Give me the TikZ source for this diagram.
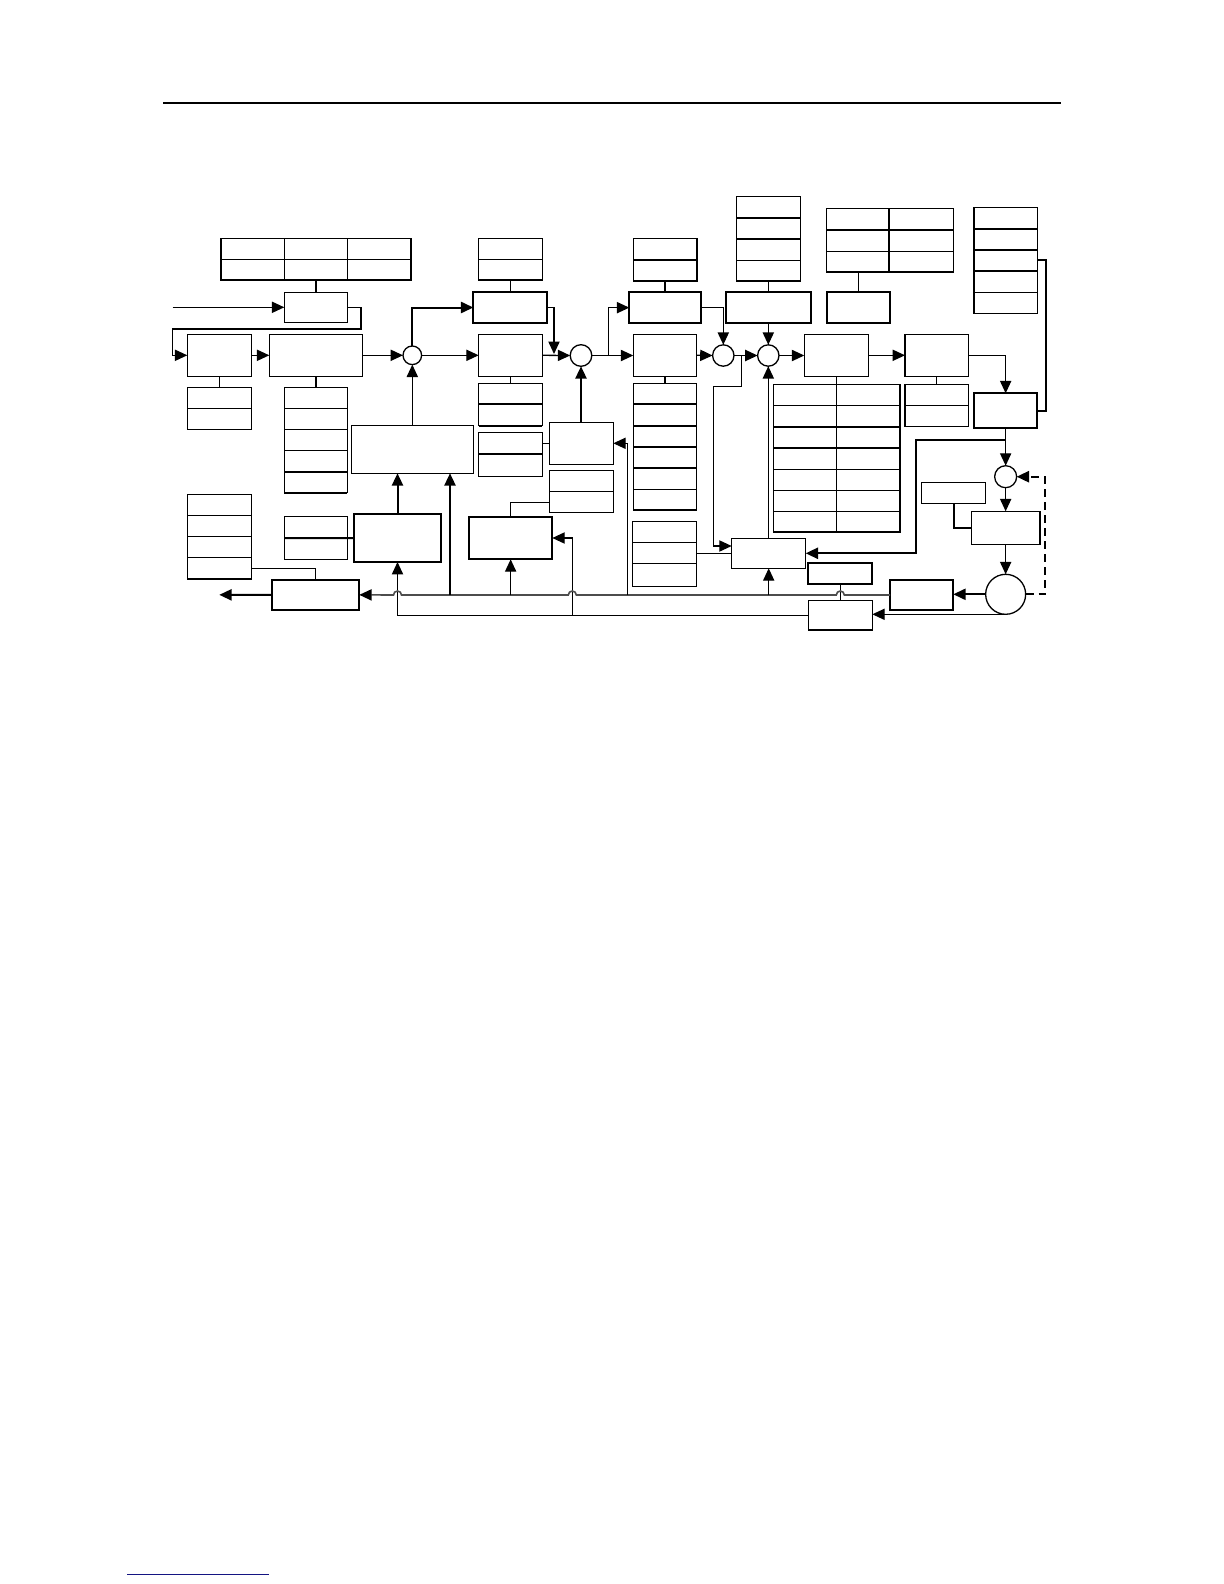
\documentclass[tikz,border=0pt]{standalone}
\usetikzlibrary{arrows.meta,calc}
\newcommand\bx[6][]{\node[boxst,minimum width={(#5-#3)*0.5pt},minimum height={(#6-#4)*0.5pt},#1] (#2) at ({(#3+#5)/2},{(#4+#6)/2}) {};}
\newcommand\hd[4][ln]{\draw[#1] (#2,#4) -- (#3,#4);}
\newcommand\vd[4][ln]{\draw[#1] (#4,#2) -- (#4,#3);}
\begin{document}
\begin{tikzpicture}[x=0.5pt,y=-0.5pt,
  ln/.style={line width=0.65pt},
  lnb/.style={line width=1pt},
  boxst/.style={draw,line width=0.65pt,inner sep=0pt,outer sep=0pt},
  boxb/.style={line width=1pt},
  tip/.style={-{Triangle[length=6.2pt,width=5.6pt]}},
  arr/.style={ln,tip},
  arrb/.style={lnb,tip},
  bus/.style={line width=0.8pt,draw=black!70,-{Triangle[length=6.2pt,width=5.6pt,color=black]}},
  sumc/.style={circle,draw,line width=0.65pt,inner sep=0pt,outer sep=0pt}]
\useasboundingbox (0,0) rectangle (1224,1584);
% page rules
\coordinate (r1) at (163,102.7); \coordinate (r2) at (1061,102.7);
\draw[line width=1pt] (r1) -- (r2);
\coordinate (f1) at (127,1574.7); \coordinate (f2) at (269,1574.7);
\draw[line width=0.6pt,draw={rgb,255:red,20;green,20;blue,130}] (f1) -- (f2);

% ---------- left part ----------
\bx[line width=0.8pt]{TT}{221}{238.3}{411}{280}
\vd{238.3}{280}{284.3} \vd{238.3}{280}{347.3} \hd{221}{411}{259.3}
\bx{B1}{284.3}{292.3}{347.3}{322.3}
\draw[lnb] (B1.north) -- (B1.north |- TT.south);
\coordinate (in1) at (172.7,307.3);
\draw[arr] (in1) -- (in1 -| B1.west);
\bx{A}{187.3}{334.3}{251.3}{376.3}
\coordinate (fb1) at (361,329); \coordinate (fb2) at (172.3,355.3);
\draw[arr] (B1.east) -| (fb1) -| (fb2) -- (A.west);
\bx{A2}{187.3}{387.3}{251.3}{429.3} \hd{187.3}{251.3}{408.3}
\draw[ln] (A.south) -- (A2.north);
\bx{C}{269.3}{334.3}{362.3}{376.3}
\draw[arr] (A.east) -- (C.west);
\bx{C2}{284.3}{387.3}{347.3}{492.7}
\hd{284.3}{347.3}{408.3} \hd{284.3}{347.3}{429.3} \hd{284.3}{347.3}{450.3} \hd[lnb]{284.3}{347.3}{471.7} \hd[lnb]{284.3}{347.3}{492.7}
\draw[lnb] (C.south) -- (C2.north);
\node[sumc,minimum size=9.3pt] (S1) at (412.3,355.3) {};
\draw[arr] (C.east) -- (S1.west);
\bx{E}{351.7}{425.3}{473.3}{473.3}
\draw[arr] (S1.south |- E.north) -- (S1.south);
\bx[boxb]{D1}{473.3}{292.3}{547.3}{322.7}
\draw[arrb] (S1.north) |- (D1.west);
\bx{DT}{478.7}{238.3}{542.3}{280} \hd{478.7}{542.3}{259.3}
\draw[ln] (D1.north) -- (D1.north |- DT.south);
\bx{D}{478.7}{334.3}{542.3}{376.3}
\draw[arr] (S1.east) -- (D.west);
\bx{D2}{478.7}{383.3}{542.3}{425.7} \hd[lnb]{478.7}{542.3}{404.3} \hd[lnb]{478.7}{542.3}{425.7}
\draw[ln] (D.south) -- (D2.north);
\node[sumc,minimum size=10.8pt] (S2) at (581,355.5) {};
\draw[arr] (D.east) -- (S2.west);
\coordinate (s2in) at (554,354);
\draw[arr] (D1.east) -| (s2in);
\bx{K}{549.3}{422.3}{613.3}{464.3}
\draw[arrb] (S2.south |- K.north) -- (S2.south);
\bx{KL}{478.7}{432.3}{542.3}{476.3} \hd[lnb]{478.7}{542.3}{453.7}
\draw[ln] (K.west) -- (K.west -| KL.east);
\bx{J}{549.3}{470.3}{613.3}{512.3} \hd{549.3}{613.3}{491.3}
\bx[boxb]{I}{469}{516.7}{552.3}{559.3}
\coordinate (jc) at (549.3,502.3);
\draw[ln] (jc) -| (I.north);
\bx[boxb]{F}{353.7}{514.3}{441.3}{562}
\draw[arrb] (F.north) -- (F.north |- E.south);
\bx{FL}{284.3}{516.7}{347.3}{559.3}
\draw[lnb] (FL.west) -- (FL.east) -- (F.west);
\bx{G}{187.3}{494.3}{251.3}{579}
\hd{187.3}{251.3}{515.3} \hd{187.3}{251.3}{536.3} \hd{187.3}{251.3}{557.3} \hd[lnb]{187.3}{251.3}{579}
\bx[boxb]{H}{272.3}{579.7}{359.3}{610}
\coordinate (gc) at (251.3,568.3);
\draw[ln] (gc) -| (H.north);
\coordinate (out1) at (219.3,594.85);
\draw[arrb] (H.west) -- (out1);

% ---------- right part ----------
\bx[boxb]{L1}{629.3}{292.3}{700.7}{323}
\bx[line width=0.8pt]{LT}{633.3}{238.3}{696.7}{281} \hd[lnb]{633.3}{696.7}{260}
\draw[lnb] (L1.north) -- (L1.north |- LT.south);
\bx{L}{633.3}{334.3}{696.7}{376.3}
\draw[arr] (S2.east) -- (S2.east -| L.west);
\coordinate (br1) at (608.3,355.5);
\draw[arr] (br1) |- (L1.west);
\bx{L2}{633.3}{383.3}{696.7}{510}
\hd[lnb]{633.3}{696.7}{404.3} \hd[lnb]{633.3}{696.7}{425.7} \hd[lnb]{633.3}{696.7}{446.7} \hd[lnb]{633.3}{696.7}{468} \hd{633.3}{696.7}{489.3}
\draw[ln] (L.south) -- (L2.north);
\bx{M}{632.7}{521.3}{696.7}{586.3} \hd{632.7}{696.7}{542.7} \hd{632.7}{696.7}{563.7}
\node[sumc,minimum size=10.7pt] (S3) at (723.3,355.5) {};
\draw[arr] (L.east) -- (S3.west);
\draw[arr] (L1.east) -| (S3.north);
\node[sumc,minimum size=10.7pt] (S4) at (768.3,355.5) {};
\draw[arr] (S3.east) -- (S4.west);
\bx{N}{731.7}{538.3}{805.7}{568.3}
\draw[ln] (M.east) -- (M.east -| N.west);
\coordinate (br2) at (741.7,355.5); \coordinate (br2a) at (713.3,386.7); \coordinate (nin) at (731.7,546);
\draw[arr] (br2) |- (br2a) |- (nin);
\draw[arr] (S4.south |- N.north) -- (S4.south);
\bx{PT}{736.7}{196.7}{800.3}{281}
\hd[lnb]{736.7}{800.3}{218} \hd[lnb]{736.7}{800.3}{239} \hd{736.7}{800.3}{260.3}
\bx[boxb]{P1}{725.7}{292.3}{811}{323}
\draw[ln] (P1.north) -- (P1.north |- PT.south);
\draw[arr] (S4.north |- P1.south) -- (S4.north);
\bx{R}{804.3}{334.3}{868.3}{376.3}
\draw[arr] (S4.east) -- (S4.east -| R.west);
\bx{T}{773.3}{384.3}{900}{532}
\vd{384.3}{532}{836.7} \vd[lnb]{384.3}{532}{900}
\hd{773.3}{900}{405.7} \hd[lnb]{773.3}{900}{426.7} \hd[lnb]{773.3}{900}{447.7} \hd{773.3}{900}{469.3} \hd{773.3}{900}{490.3} \hd{773.3}{900}{511.3}
\draw[ln] (R.south) -- (R.south |- T.north);
\bx{UT}{826.7}{208.7}{953.3}{272}
\vd[lnb]{208.7}{272}{889.3} \hd[lnb]{826.7}{953.3}{230} \hd{826.7}{953.3}{251.3}
\bx[boxb]{U1}{826.7}{292.3}{890}{323}
\draw[ln] (U1.north) -- (U1.north |- UT.south);
\bx{V}{905}{334.3}{968.3}{376.3}
\draw[arr] (R.east) -- (V.west);
\bx{V2}{905}{384.3}{968.3}{426.7} \hd{905}{968.3}{405.7}
\draw[ln] (V.south) -- (V2.north);
\bx[boxb]{Q}{974}{393.3}{1037.3}{428.3}
\draw[arr] (V.east) -| (Q.north);
\bx{W}{974}{207.3}{1037.3}{313.3}
\hd[lnb]{974}{1037.3}{228.7} \hd[lnb]{974}{1037.3}{249.7} \hd[lnb]{974}{1037.3}{270.7} \hd{974}{1037.3}{292.3}
\coordinate (wc) at (1037.3,260); \coordinate (wr) at (1046,260);
\draw[lnb] (wc) -- (wr) |- (Q.east);
\node[sumc,minimum size=11pt] (S5) at (1005.65,476.7) {};
\draw[arr] (Q.south) -- (S5.north);
\coordinate (qb) at (1005.65,440); \coordinate (nr) at (915.7,440);
\draw[arrb] (qb) -- (nr) |- (N.east);
\bx{X}{971.3}{511.3}{1040}{544.3}
\draw[arr] (S5.south) -- (S5.south |- X.north);
\bx{Y}{921.7}{482.3}{985.7}{503.3}
\draw[lnb] (Y.south) |- (X.west);
\node[sumc,minimum size=20pt] (Z) at (1005.65,594.3) {};
\draw[arr] (X.south) -- (Z.north);
\bx[boxb]{AA}{890}{580}{953.3}{610}
\draw[arrb] (Z.west) -- (Z.west -| AA.east);
\coordinate (dz) at (1045,594.3);
\draw[lnb,dash pattern=on 4pt off 2.5pt,tip] (Z.east) -- (dz) |- (S5.east);
\bx{BB}{808.3}{600.3}{872.3}{630}
\bx[boxb]{CC}{808.3}{562.7}{872.3}{583.7}
\draw[ln] (CC.south) -- (BB.north);
\draw[arr] (Z.south) -- (Z.south -| BB.east);
% lower line
\draw[arr] (BB.west) -- (BB.west -| F.south) -- (F.south);
\coordinate (lb1) at (572.3,615.15);
\draw[arr] (lb1) |- (I.east);
% bus
\draw[bus] (AA.west) -- (844.3,595) arc[start angle=0,end angle=180,radius=2pt]
  -- (576.3,595) arc[start angle=0,end angle=180,radius=2pt]
  -- (401.5,595) arc[start angle=0,end angle=180,radius=2pt] -- (H.east);
\draw[arr] (N.south |- AA.west) -- (N.south);
\coordinate (kt) at (627.3,595);
\draw[arr] (kt) |- (K.east);
\draw[arr] (I.south |- AA.west) -- (I.south);
\coordinate (et) at (450,595);
\draw[arrb] (et) -- (et |- E.south);
\end{tikzpicture}
\end{document}
